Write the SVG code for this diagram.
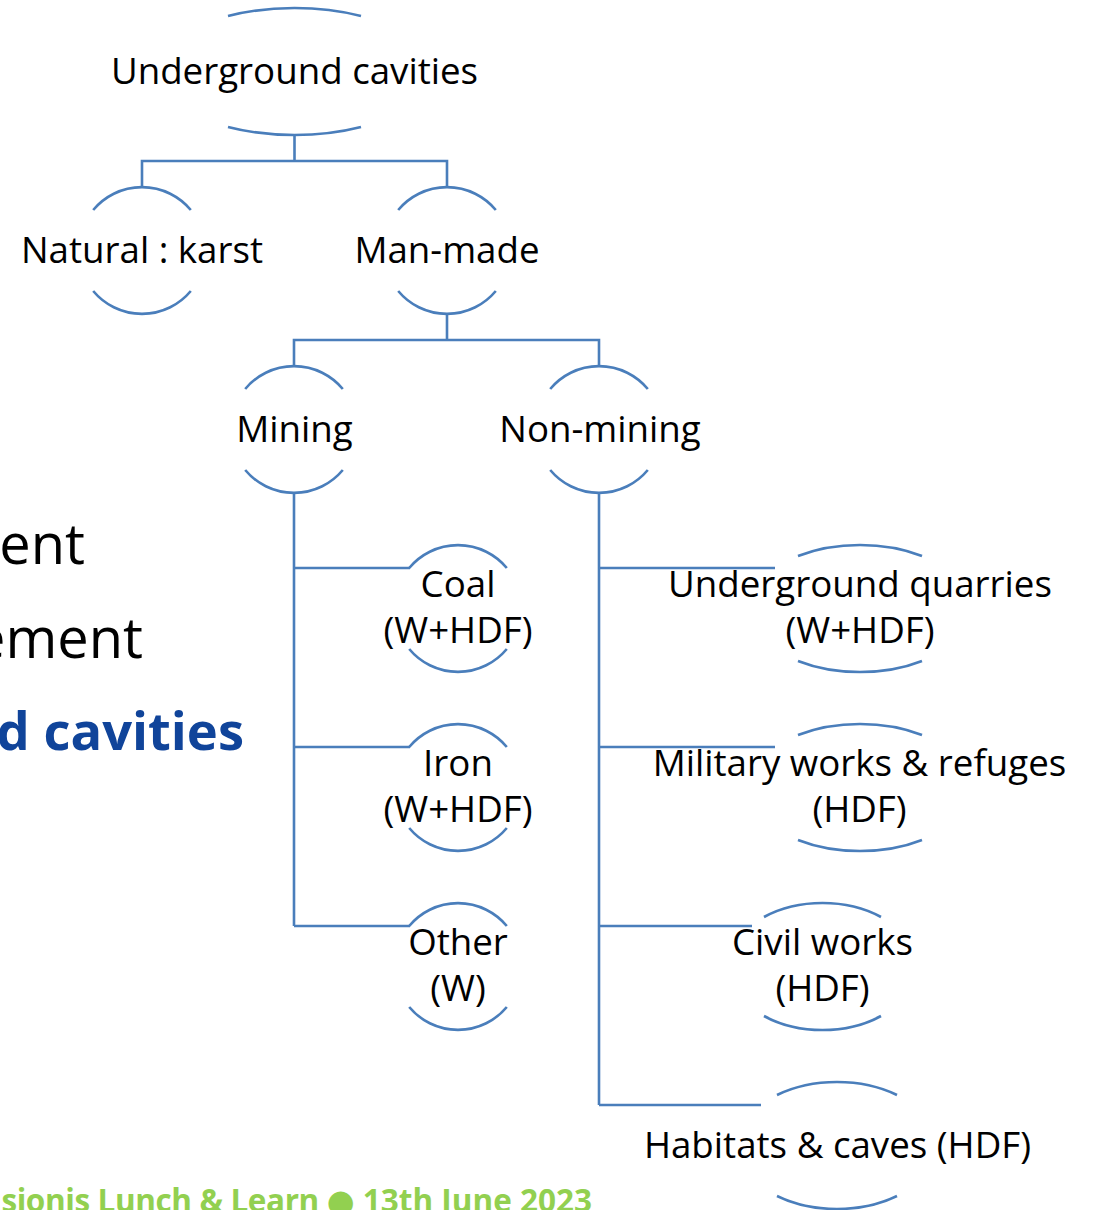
<svg xmlns="http://www.w3.org/2000/svg" width="1096" height="1210" viewBox="0 0 1096 1210">
<style>
.arc{fill:none;stroke:#4a7ebb;stroke-width:2.6}
.con{fill:none;stroke:#4a7ebb;stroke-width:2.6}
.t{font-family:"Open Sans","Noto Sans",sans-serif;font-size:36.7px;fill:#000;text-anchor:middle}
.bg{font-family:"Open Sans","Noto Sans",sans-serif;font-size:56px;fill:#000;text-anchor:end}
</style>
<rect width="1096" height="1210" fill="#fff"/>
<g id="background-text">
<text class="bg" x="85" y="564">ent</text>
<text class="bg" x="143" y="658">ement</text>
<text x="244" y="750" style="font-family:'Open Sans','Noto Sans',sans-serif;font-size:52.5px;font-weight:bold;fill:#10449a;text-anchor:end">d cavities</text>
<text x="592" y="1212" style="font-family:'Open Sans','Noto Sans',sans-serif;font-size:31.5px;font-weight:bold;fill:#92d050;text-anchor:end"><tspan style="letter-spacing:-0.4px">sionis Lunch &amp; Learn </tspan><tspan style="font-family:'DejaVu Sans',sans-serif;font-size:32px">●</tspan> 13th June 2023</text>
</g>
<g id="connectors">
<path class="con" d="M294.5,135 V161 M142,187 V161 H447 V187"/>
<path class="con" d="M447,314 V340 M294,366 V340 H599 V366"/>
<path class="con" d="M294,493 V926 M294,568 H410 M294,747 H410 M294,926 H410"/>
<path class="con" d="M599,493 V1105 M599,568 H775 M599,747 H775 M599,926 H752 M599,1105 H761"/>
</g>
<g id="node-root">
<path class="arc" d="M228,16 A137 63.5 0 0 1 361,16 M228,127 A137 63.5 0 0 0 361,127"/>
<text class="t" x="294.5" y="84">Underground cavities</text>
</g>
<g id="node-natural">
<path class="arc" d="M93.2,210 A63.5 63.5 0 0 1 190.8,210 M93.2,291 A63.5 63.5 0 0 0 190.8,291"/>
<text class="t" x="142" y="263">Natural : karst</text>
</g>
<g id="node-manmade">
<path class="arc" d="M398.2,210 A63.5 63.5 0 0 1 495.8,210 M398.2,291 A63.5 63.5 0 0 0 495.8,291"/>
<text class="t" x="447" y="263">Man-made</text>
</g>
<g id="node-mining">
<path class="arc" d="M245.2,389 A63.5 63.5 0 0 1 342.8,389 M245.2,470 A63.5 63.5 0 0 0 342.8,470"/>
<text class="t" x="294.5" y="442">Mining</text>
</g>
<g id="node-nonmining">
<path class="arc" d="M550.2,389 A63.5 63.5 0 0 1 647.8,389 M550.2,470 A63.5 63.5 0 0 0 647.8,470"/>
<text class="t" x="600" y="442">Non-mining</text>
</g>
<g id="node-coal">
<path class="arc" d="M409.2,568 A63.5 63.5 0 0 1 506.8,568 M409.2,649 A63.5 63.5 0 0 0 506.8,649"/>
<text class="t" x="458" y="597">Coal</text>
<text class="t" x="458" y="643">(W+HDF)</text>
</g>
<g id="node-iron">
<path class="arc" d="M409.2,747 A63.5 63.5 0 0 1 506.8,747 M409.2,828 A63.5 63.5 0 0 0 506.8,828"/>
<text class="t" x="458" y="776">Iron</text>
<text class="t" x="458" y="822">(W+HDF)</text>
</g>
<g id="node-other">
<path class="arc" d="M409.2,926 A63.5 63.5 0 0 1 506.8,926 M409.2,1007 A63.5 63.5 0 0 0 506.8,1007"/>
<text class="t" x="458" y="955">Other</text>
<text class="t" x="458" y="1001">(W)</text>
</g>
<g id="node-quarries">
<path class="arc" d="M798,556 A110 63.5 0 0 1 922,556 M798,661 A110 63.5 0 0 0 922,661"/>
<text class="t" x="860" y="597">Underground quarries</text>
<text class="t" x="860" y="643">(W+HDF)</text>
</g>
<g id="node-military">
<path class="arc" d="M798,735 A110 63.5 0 0 1 922,735 M798,840 A110 63.5 0 0 0 922,840"/>
<text class="t" x="859.5" y="776">Military works &amp; refuges</text>
<text class="t" x="859.5" y="822">(HDF)</text>
</g>
<g id="node-civil">
<path class="arc" d="M764,917 A93.4 63.5 0 0 1 881,917 M764,1016 A93.4 63.5 0 0 0 881,1016"/>
<text class="t" x="822.5" y="955">Civil works</text>
<text class="t" x="822.5" y="1001">(HDF)</text>
</g>
<g id="node-habitats">
<path class="arc" d="M777,1095 A99 63.5 0 0 1 897,1095 M777,1196 A99 63.5 0 0 0 897,1196"/>
<text class="t" x="837.5" y="1158">Habitats &amp; caves (HDF)</text>
</g>
</svg>
